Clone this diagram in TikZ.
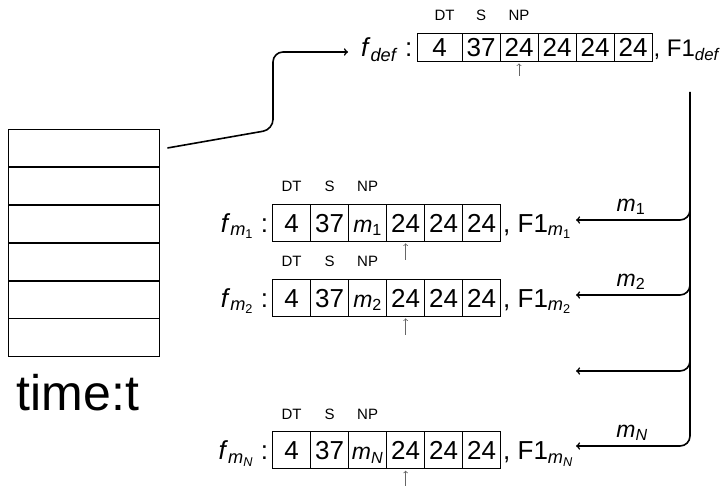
\documentclass[tikz,border=0pt]{standalone}
\usepackage{fontspec}
\setmainfont{Liberation Sans}
\usetikzlibrary{positioning}
\newcommand\idx[2]{\textit{#1}\textsubscript{#2}}
\tikzset{
	cell/.style={draw, line width=0.8pt, minimum width=38pt, minimum height=37pt, inner sep=0pt, text height=18.5pt, text depth=0pt, font=\fontsize{26}{28}\selectfont},
	var/.style={cell, font=\fontsize{23}{26}\selectfont},
	slot/.style={draw, line width=0.8pt, minimum width=151pt, minimum height=37.8pt, inner sep=0pt},
	tag/.style={inner sep=0pt, font=\fontsize{15}{17}\selectfont},
	lbl/.style={inner sep=0pt, text height=18.5pt, text depth=0pt, font=\fontsize{26}{28}\selectfont},
	mlbl/.style={inner sep=0pt, font=\fontsize{23}{26}\selectfont},
	ptr/.style={->, draw=black!60, line width=0.8pt},
	link/.style={->, line width=1.6pt, rounded corners=10pt},
}

\begin{document}
\begin{tikzpicture}[x=1pt, y=-1pt]
		%%%%% START %%%%%
		\useasboundingbox (0,0) rectangle (722,486);
		
		\node[slot] (s1) at (83.5,148) {};
		\node[slot] (s2) at (83.5,186) {};
		\node[slot] (s3) at (83.5,224) {};
		\node[slot] (s4) at (83.5,262) {};
		\node[slot] (s5) at (83.5,299.5) {};
		\node[slot] (s6) at (83.5,337) {};
		\node[anchor=base, inner sep=0pt, font=\fontsize{50}{56}\selectfont] (clock) at (78,410) {time:t};
		
		% default row
		\node[cell, minimum height=28pt, minimum width=45pt] (d1) at (439.5,47.5) {4};
		\node[cell, minimum height=28pt] (d2) at (481,47.5) {37};
		\node[cell, minimum height=28pt] (d3) at (519,47.5) {24};
		\node[cell, minimum height=28pt] (d4) at (557,47.5) {24};
		\node[cell, minimum height=28pt] (d5) at (595,47.5) {24};
		\node[cell, minimum height=28pt] (d6) at (633,47.5) {24};
		\node[tag, above=12pt of d1, xshift=5pt] {DT};
		\node[tag, above=12pt of d2] {S};
		\node[tag, above=12pt of d3] {NP};
		\node[lbl, anchor=east] (fd) at ([xshift=-4pt]d1.west) {\idx{f}{\textit{def}} :};
		\node[lbl, anchor=west, font=\fontsize{24}{26}\selectfont] (Fd) at ([xshift=1pt]d6.east) {, F1\textsubscript{\textit{def}}};
		\draw[ptr] ([yshift=-14pt]d3.south) -- ([yshift=-1.5pt]d3.south);
		
		% row m1
		\node[cell] (a1) at (291.6,223) {4};
		\node[cell] (a2) at (329.6,223) {37};
		\node[var] (a3) at (367.6,223) {\idx{m}{1}};
		\node[cell] (a4) at (405.6,223) {24};
		\node[cell] (a5) at (443.6,223) {24};
		\node[cell] (a6) at (481.6,223) {24};
		\node[tag, above=12pt of a1] {DT};
		\node[tag, above=12pt of a2] {S};
		\node[tag, above=12pt of a3] {NP};
		\node[lbl, anchor=east] (fa) at ([xshift=-4pt]a1.west) {\idx{f}{\idx{m}{1}}\ :};
		\node[lbl, anchor=west] (Fa) at ([xshift=2pt]a6.east) {, F1\textsubscript{\idx{m}{1}}};
		\draw[ptr] ([yshift=-18pt]a4.south) -- ([yshift=-1.5pt]a4.south);
		
		% row m2
		\node[cell] (b1) at (291.6,298) {4};
		\node[cell] (b2) at (329.6,298) {37};
		\node[var] (b3) at (367.6,298) {\idx{m}{2}};
		\node[cell] (b4) at (405.6,298) {24};
		\node[cell] (b5) at (443.6,298) {24};
		\node[cell] (b6) at (481.6,298) {24};
		\node[tag, above=12pt of b1] {DT};
		\node[tag, above=12pt of b2] {S};
		\node[tag, above=12pt of b3] {NP};
		\node[lbl, anchor=east] (fb) at ([xshift=-4pt]b1.west) {\idx{f}{\idx{m}{2}}\ :};
		\node[lbl, anchor=west] (Fb) at ([xshift=2pt]b6.east) {, F1\textsubscript{\idx{m}{2}}};
		\draw[ptr] ([yshift=-18pt]b4.south) -- ([yshift=-1.5pt]b4.south);
		
		% row mN
		\node[cell] (n1) at (291.6,450.3) {4};
		\node[cell] (n2) at (329.6,450.3) {37};
		\node[var] (n3) at (367.6,450.3) {\idx{m}{\textit{N}}};
		\node[cell] (n4) at (405.6,450.3) {24};
		\node[cell] (n5) at (443.6,450.3) {24};
		\node[cell] (n6) at (481.6,450.3) {24};
		\node[tag, above=12pt of n1] {DT};
		\node[tag, above=12pt of n2] {S};
		\node[tag, above=12pt of n3] {NP};
		\node[lbl, anchor=east] (fn) at ([xshift=-4pt]n1.west) {\idx{f}{\idx{m}{\textit{N}}}\ :};
		\node[lbl, anchor=west] (Fn) at ([xshift=2pt]n6.east) {, F1\textsubscript{\idx{m}{\textit{N}}}};
		\draw[ptr] ([yshift=-18pt]n4.south) -- ([yshift=-1.5pt]n4.south);
		
		% stack to default
		\coordinate (in) at (348,52);
		\draw[link] ([xshift=8pt]s1.east) -- (273,129.5) |- (in);
		
		% fan out
		\coordinate (tap) at (690,92);
		\coordinate (e1) at (576,220);
		\coordinate (e2) at (576,295);
		\coordinate (e3) at (576,371);
		\coordinate (eN) at (576,446);
		\coordinate (t1) at (690,200);
		\coordinate (t2) at (690,275);
		\coordinate (t3) at (690,351);
		\draw[link] (tap) |- (eN);
		\draw[link] (t1) |- (e1);
		\draw[link] (t2) |- (e2);
		\draw[link] (t3) |- (e3);
		\node[mlbl, above=5pt of e1, xshift=55pt] (m1) {\idx{m}{1}};
		\node[mlbl, above=5pt of e2, xshift=55pt] (m2) {\idx{m}{2}};
		\node[mlbl, above=5pt of eN, xshift=56pt] (mN) {\idx{m}{\textit{N}}};
		
		%%%%% END %%%%%
	\end{tikzpicture}
\end{document}
